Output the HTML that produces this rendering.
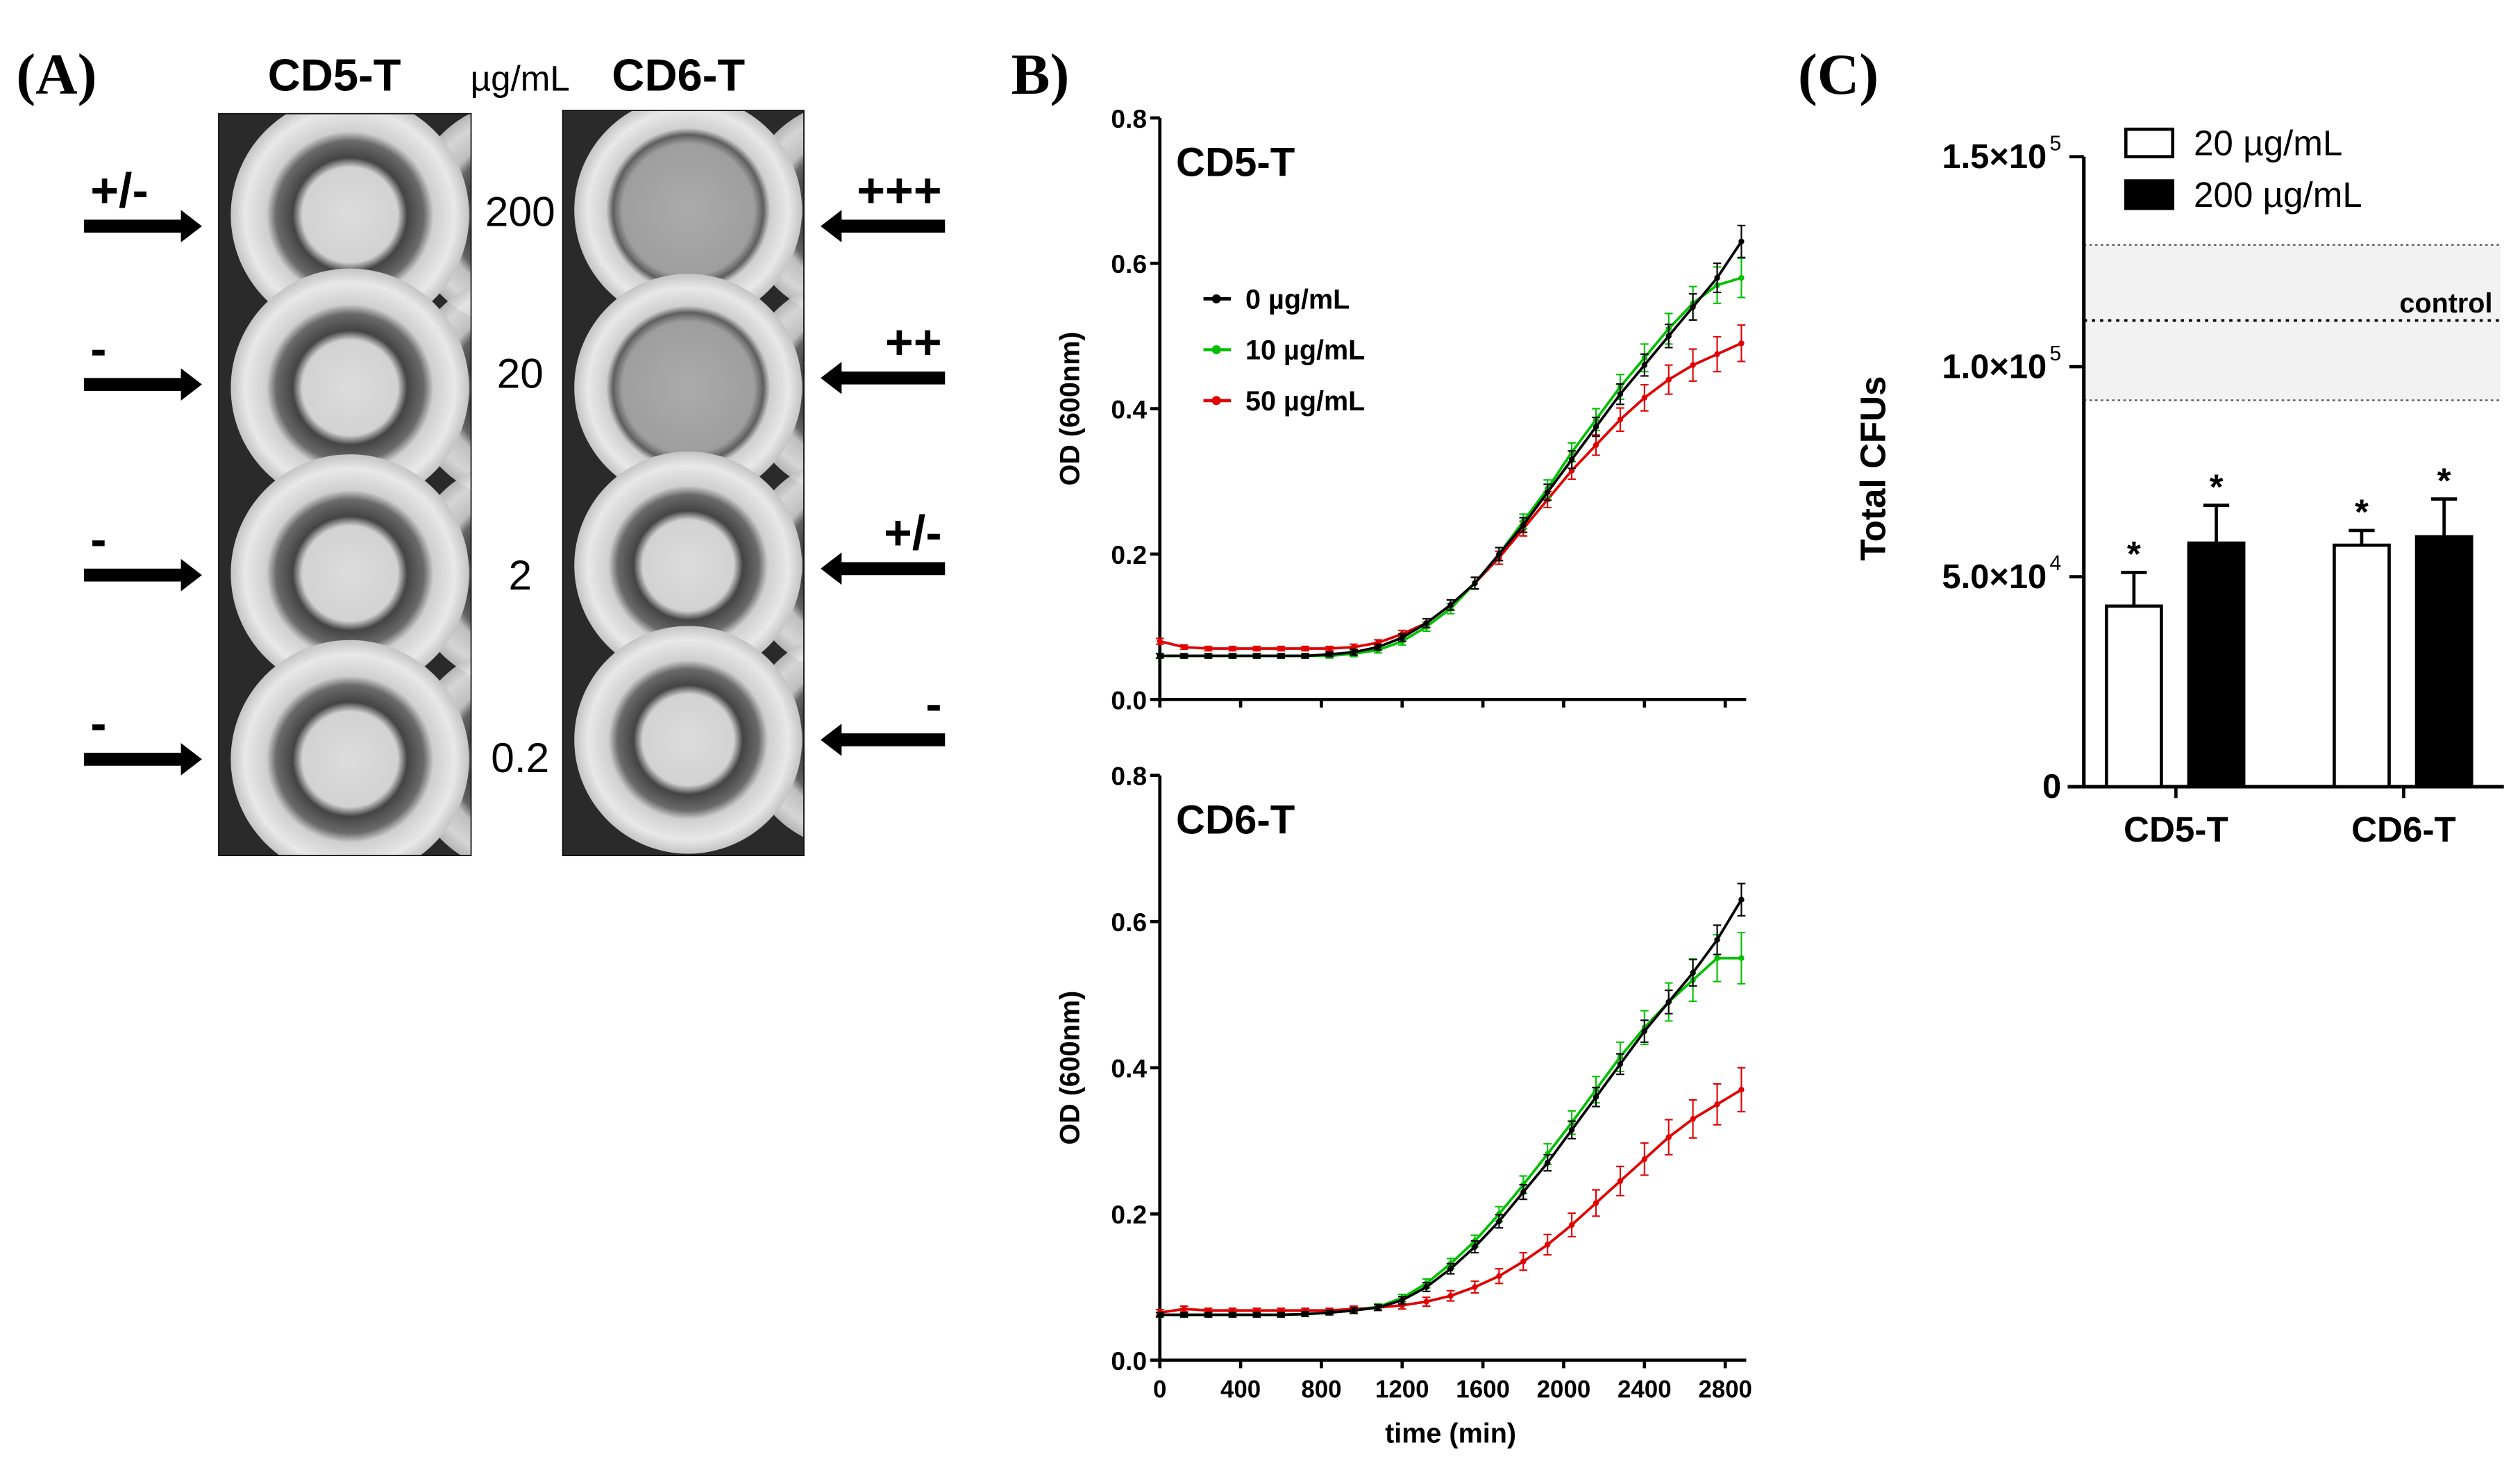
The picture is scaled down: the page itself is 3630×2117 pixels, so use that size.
<!DOCTYPE html>
<html><head><meta charset="utf-8"><style>
html,body{margin:0;padding:0;background:#fff}
svg{display:block}
text{font-family:"Liberation Sans",Arial,sans-serif}
</style></head><body>
<svg id="fig" width="3630" height="2117" viewBox="0 0 1560 910" preserveAspectRatio="none" xmlns="http://www.w3.org/2000/svg">
<defs>
<radialGradient id="wellG" cx="50%" cy="50%" r="50%">
<stop offset="0" stop-color="#dcdcdc"/><stop offset="0.4" stop-color="#d2d2d2"/><stop offset="0.48" stop-color="#444"/><stop offset="0.62" stop-color="#6a6a6a"/><stop offset="0.7" stop-color="#cfcfcf"/><stop offset="0.88" stop-color="#e8e8e8"/><stop offset="1" stop-color="#c4c4c4"/>
</radialGradient>
<radialGradient id="wellT" cx="50%" cy="50%" r="50%">
<stop offset="0" stop-color="#ababab"/><stop offset="0.58" stop-color="#9e9e9e"/><stop offset="0.66" stop-color="#5e5e5e"/><stop offset="0.72" stop-color="#cfcfcf"/><stop offset="0.88" stop-color="#e8e8e8"/><stop offset="1" stop-color="#c4c4c4"/>
</radialGradient>
<clipPath id="clipL"><rect x="135" y="70" width="157" height="460"/></clipPath>
<clipPath id="clipR"><rect x="348" y="68" width="150" height="462"/></clipPath>
</defs>
<g id="panelA">
<text x="10" y="58" style="font-family:'Liberation Serif',serif" font-weight="bold" font-size="36">(A)</text>
<text x="207" y="56" text-anchor="middle" font-weight="bold" font-size="28">CD5-T</text>
<text x="322" y="56" text-anchor="middle" font-size="22">µg/mL</text>
<text x="420" y="56" text-anchor="middle" font-weight="bold" font-size="28">CD6-T</text>
<g id="photos"></g>
</g>
<g id="panelB">
<text x="626" y="58" style="font-family:'Liberation Serif',serif" font-weight="bold" font-size="36">B)</text>
</g>
<g id="panelC">
<text x="1113" y="58" style="font-family:'Liberation Serif',serif" font-weight="bold" font-size="36">(C)</text>
</g>
</svg>
<script>
const NS="http://www.w3.org/2000/svg";
function mk(tag,attrs,parent,txt){const e=document.createElementNS(NS,tag);for(const k in attrs)e.setAttribute(k,attrs[k]);if(txt!==undefined)e.textContent=txt;parent.appendChild(e);return e;}

// ---------- Panel A data ----------
const concLabels=["200","20","2","0.2"];
const cd5Scores=["+/-","-","-","-"];
const cd6Scores=["+++","++","+/-","-"];

// ---------- Panel B data ----------
const times=[0,120,240,360,480,600,720,840,960,1080,1200,1320,1440,1560,1680,1800,1920,2040,2160,2280,2400,2520,2640,2760,2880];
const cd5Black=[.06,.06,.06,.06,.06,.06,.06,.062,.065,.072,.085,.105,.13,.16,.2,.24,.285,.33,.375,.42,.46,.5,.54,.58,.63];
const cd5Green=[.06,.06,.06,.06,.06,.06,.06,.06,.063,.068,.08,.10,.125,.16,.2,.245,.29,.34,.385,.43,.47,.51,.545,.57,.58];
const cd5Red=[.08,.072,.07,.07,.07,.07,.07,.07,.072,.078,.09,.105,.13,.16,.195,.235,.275,.315,.35,.385,.415,.44,.46,.475,.49];
const cd5BlackErr=[.003,.003,.003,.003,.003,.003,.003,.003,.004,.004,.005,.006,.007,.008,.009,.01,.011,.012,.013,.014,.015,.016,.018,.02,.022];
const cd5GreenErr=[.003,.003,.003,.003,.003,.003,.003,.003,.004,.004,.005,.006,.007,.008,.009,.01,.012,.013,.015,.017,.019,.021,.023,.025,.027];
const cd5RedErr=[.004,.003,.003,.003,.003,.003,.003,.003,.004,.004,.005,.006,.007,.008,.009,.01,.011,.012,.014,.016,.018,.02,.022,.024,.025];
const cd6Black=[.062,.062,.062,.062,.062,.062,.063,.065,.068,.072,.082,.1,.125,.155,.19,.23,.27,.315,.36,.405,.45,.49,.53,.575,.63];
const cd6Green=[.062,.062,.062,.062,.062,.062,.063,.065,.068,.073,.085,.105,.132,.163,.2,.24,.282,.325,.37,.415,.455,.49,.52,.55,.55];
const cd6Red=[.065,.07,.068,.068,.068,.068,.068,.068,.07,.072,.075,.08,.088,.1,.115,.135,.158,.185,.215,.245,.275,.305,.33,.35,.37];
const cd6BlackErr=[.003,.003,.003,.003,.003,.003,.003,.003,.004,.004,.005,.006,.007,.008,.009,.01,.011,.012,.013,.014,.015,.016,.018,.02,.022];
const cd6GreenErr=[.003,.003,.003,.003,.003,.003,.003,.003,.004,.004,.005,.006,.007,.008,.01,.012,.014,.016,.018,.02,.023,.026,.029,.032,.035];
const cd6RedErr=[.004,.004,.003,.003,.003,.003,.003,.003,.004,.004,.005,.006,.007,.008,.01,.012,.014,.016,.018,.02,.022,.024,.026,.028,.03];
const xTicks=[0,400,800,1200,1600,2000,2400,2800];
const yTicksB=[0.0,0.2,0.4,0.6,0.8];
const seriesNames=["0 µg/mL","10 µg/mL","50 µg/mL"];

// ---------- Panel C data ----------
const groups=["CD5-T","CD6-T"];
const low=[43000,57500];
const lowErr=[8000,3500];
const high=[58000,59500];
const highErr=[9000,9000];
const controlMean=111000, controlLow=92000, controlHigh=129000;
const yTicksCVals=[0,50000,100000,150000];
const yTicksCLabels=["0","5.0×10","1.0×10","1.5×10"];
const yTicksCExp=["","4","5","5"];
const legendC=["20 µg/mL","200 µg/mL"];

// ========== Panel A drawing ==========
const pA=document.getElementById('panelA');
const photos=document.getElementById('photos');
function plate(x0,y0,w,h,name,clip,wellYs,turb){
  const g=mk('g',{'clip-path':'url(#'+clip+')'},photos);
  
  
  mk('rect',{x:x0,y:y0,width:w,height:h,fill:'#2a2a2a'},g);
  wellYs.forEach((cy,i)=>{
    mk('circle',{cx:x0+w*1.2,cy:cy,r:w*0.45,fill:'url(#wellG)',opacity:0.9},g);
    mk('circle',{cx:x0-w*0.68,cy:cy,r:w*0.45,fill:'url(#wellG)',opacity:0.9},g);
    const c=mk('circle',{cx:x0+w*0.52,cy:cy,r:w*0.47,fill:'url(#'+(turb[i]?'wellT':'wellG')+')'},g);
    
    
  });
  mk('rect',{x:x0,y:y0,width:w,height:h,fill:'none',stroke:'#111','stroke-width':1.5},g);
  return g;
}
plate(135,70,157,460,'cd5-t-plate','clipL',[133,240,355,470],[0,0,0,0]);
plate(348,68,150,462,'cd6-t-plate','clipR',[130,240,350,458],[1,1,0,0]);
const leftYs=[140,238,356,470], rightYs=[140,234,352,458];
const labelYs=[140,240,365,478];
concLabels.forEach((c,i)=>{
  const t=mk('text',{x:322,y:labelYs[i],'text-anchor':'middle','font-size':26},pA,c);
  
  
});
cd5Scores.forEach((s,i)=>{
  const y=leftYs[i];
  const a=mk('path',{d:`M52 ${y-4} L112 ${y-4} L112 ${y-10} L125 ${y} L112 ${y+10} L112 ${y+4} L52 ${y+4} Z`,fill:'#000'},pA);
  
  
  const t=mk('text',{x:56,y:y-12,'font-size':30,'font-weight':'bold'},pA,s);
  
  
});
cd6Scores.forEach((s,i)=>{
  const y=rightYs[i];
  const a=mk('path',{d:`M585 ${y-4} L521 ${y-4} L521 ${y-10} L508 ${y} L521 ${y+10} L521 ${y+4} L585 ${y+4} Z`,fill:'#000'},pA);
  
  
  const t=mk('text',{x:583,y:y-12,'font-size':30,'font-weight':'bold','text-anchor':'end'},pA,s);
  
  
});

// ========== Panel B drawing ==========
const pB=document.getElementById('panelB');
const X0=718, XPX=50/400;
const xS=t=>X0+t*XPX;
function growthChart(top,bottom,title,ser,errs,showX,name){
  const g=mk('g',{},pB);
  
  
  const yS=v=>bottom-(v/0.8)*(bottom-top);
  mk('line',{x1:X0,y1:top,x2:X0,y2:bottom,stroke:'#000','stroke-width':2},g);
  mk('line',{x1:X0,y1:bottom,x2:1081,y2:bottom,stroke:'#000','stroke-width':2},g);
  yTicksB.forEach(v=>{
    mk('line',{x1:X0-6,y1:yS(v),x2:X0,y2:yS(v),stroke:'#000','stroke-width':2},g);
    const t=mk('text',{x:X0-8,y:yS(v)+6,'text-anchor':'end','font-size':16,'font-weight':'bold'},g,v.toFixed(1));
    
    
  });
  xTicks.forEach(v=>{
    mk('line',{x1:xS(v),y1:bottom,x2:xS(v),y2:bottom+5,stroke:'#000','stroke-width':2},g);
    if(showX){const t=mk('text',{x:xS(v),y:bottom+23,'text-anchor':'middle','font-size':15,'font-weight':'bold'},g,String(v));
      
      }
  });
  const yt=mk('text',{x:0,y:0,transform:`translate(${X0-50},${(top+bottom)/2}) rotate(-90)`,'text-anchor':'middle','font-size':17,'font-weight':'bold'},g,'OD (600nm)');
  
  
  const tt=mk('text',{x:728,y:top+36,'font-size':25,'font-weight':'bold'},g,title);
  
  
  [2,1,0].forEach(k=>{
    const vals=ser[k], er=errs[k], col=['#000','#00c000','#e00000'][k];
    const sg=mk('g',{},g);
    
    
    let d='';
    times.forEach((t,i)=>{d+=(i?'L':'M')+xS(t)+' '+yS(vals[i]);});
    mk('path',{d:d,fill:'none',stroke:col,'stroke-width':1.6},sg);
    times.forEach((t,i)=>{
      const x=xS(t),y1=yS(vals[i]+er[i]),y2=yS(vals[i]-er[i]);
      mk('path',{d:`M${x} ${y1}L${x} ${y2}M${x-2.5} ${y1}L${x+2.5} ${y1}M${x-2.5} ${y2}L${x+2.5} ${y2}`,stroke:col,'stroke-width':0.9,fill:'none'},sg);
      const p=mk('circle',{cx:x,cy:yS(vals[i]),r:1.8,fill:col},sg);
      
      
    });
  });
  return g;
}
growthChart(73,433,'CD5-T',[cd5Black,cd5Green,cd5Red],[cd5BlackErr,cd5GreenErr,cd5RedErr],false,'cd5-growth-chart');
growthChart(480,842,'CD6-T',[cd6Black,cd6Green,cd6Red],[cd6BlackErr,cd6GreenErr,cd6RedErr],true,'cd6-growth-chart');
const xt=mk('text',{x:898,y:893,'text-anchor':'middle','font-size':17,'font-weight':'bold'},pB,'time (min)');


const legB=mk('g',{},pB);


['#000','#00c000','#e00000'].forEach((c,i)=>{
  const y=185+i*31.5;
  mk('line',{x1:745,y1:y,x2:762,y2:y,stroke:c,'stroke-width':2},legB);
  mk('circle',{cx:753,cy:y,r:2.8,fill:c},legB);
  const t=mk('text',{x:771,y:y+6,'font-size':17,'font-weight':'bold'},legB,seriesNames[i]);
  
  
});

// ========== Panel C drawing ==========
const pC=document.getElementById('panelC');
const CX0=1290, CX1=1550, CTOP=97, CBOT=487;
const cy=v=>CBOT-(v/150000)*(CBOT-CTOP);
const band=mk('rect',{x:CX0,y:cy(controlHigh),width:CX1-CX0-2,height:cy(controlLow)-cy(controlHigh),fill:'#f2f2f2'},pC);


[controlHigh,controlLow].forEach(v=>mk('line',{x1:CX0,y1:cy(v),x2:CX1-2,y2:cy(v),stroke:'#555','stroke-width':1,'stroke-dasharray':'1.5 2'},pC));
const cm=mk('line',{x1:CX0,y1:cy(controlMean),x2:CX1-2,y2:cy(controlMean),stroke:'#000','stroke-width':1.6,'stroke-dasharray':'2 3'},pC);


const ct=mk('text',{x:1543,y:cy(controlMean)-5,'text-anchor':'end','font-size':17,'font-weight':'bold'},pC,'control');


mk('line',{x1:CX0,y1:CTOP,x2:CX0,y2:CBOT,stroke:'#000','stroke-width':2.2},pC);
mk('line',{x1:CX0-10,y1:CBOT,x2:CX1,y2:CBOT,stroke:'#000','stroke-width':2.2},pC);
yTicksCVals.forEach((v,i)=>{
  mk('line',{x1:CX0-9,y1:cy(v),x2:CX0,y2:cy(v),stroke:'#000','stroke-width':2},pC);
  const t=mk('text',{x:CX0-14-(yTicksCExp[i]?9:0),y:cy(v)+7,'text-anchor':'end','font-size':21,'font-weight':'bold'},pC,yTicksCLabels[i]);
  
  
  if(yTicksCExp[i]){mk('text',{x:CX0-14,y:cy(v)-4,'text-anchor':'end','font-size':13},pC,yTicksCExp[i]);}
});
const cyt=mk('text',{x:0,y:0,transform:`translate(1167,290) rotate(-90)`,'text-anchor':'middle','font-size':22,'font-weight':'bold'},pC,'Total CFUs');


const groupCenters=[1347,1488], bw=34, gap=16;
groups.forEach((gname,i)=>{
  const c=groupCenters[i];
  mk('line',{x1:c,y1:CBOT,x2:c,y2:CBOT+7,stroke:'#000','stroke-width':2},pC);
  const t=mk('text',{x:c,y:CBOT+34,'text-anchor':'middle','font-size':22,'font-weight':'bold'},pC,gname);
  
  
  [[low,lowErr,'#fff',c-gap/2-bw-1],[high,highErr,'#000',c+gap/2]].forEach(([vals,errs,fill,x],k)=>{
    const top=cy(vals[i]), et=cy(vals[i]+errs[i]);
    mk('line',{x1:x+bw/2,y1:top,x2:x+bw/2,y2:et,stroke:'#000','stroke-width':2},pC);
    mk('line',{x1:x+bw/2-8,y1:et,x2:x+bw/2+8,y2:et,stroke:'#000','stroke-width':2},pC);
    const r=mk('rect',{x:x,y:top,width:bw,height:CBOT-top,fill:fill,stroke:'#000','stroke-width':2},pC);
    
    
    const s=mk('text',{x:x+bw/2,y:et-4,'text-anchor':'middle','font-size':22,'font-weight':'bold'},pC,'*');
    
    
  });
});
const legC=mk('g',{},pC);


legendC.forEach((l,i)=>{
  const y=80+i*32;
  mk('rect',{x:1316,y:y,width:29,height:17,fill:i?'#000':'#fff',stroke:'#000','stroke-width':2},legC);
  const t=mk('text',{x:1358,y:y+16,'font-size':22},legC,l);
  
  
});
</script>
</body></html>
